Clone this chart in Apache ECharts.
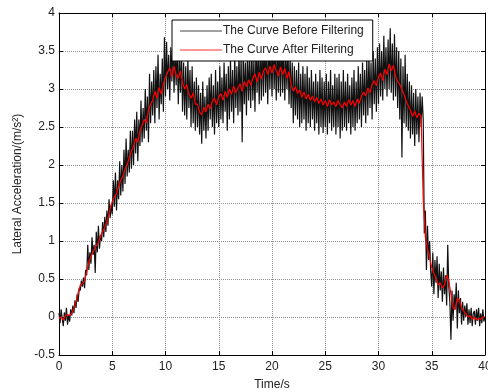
<!DOCTYPE html>
<html>
<head>
<meta charset="utf-8">
<script src="https://cdn.jsdelivr.net/npm/echarts@6/dist/echarts.min.js"></script>
<style>
  html, body { margin: 0; padding: 0; background: #fff; }
  #chart { width: 488px; height: 392px; }
</style>
</head>
<body>
<div id="chart"></div>
<script>
// sample steps (s)
const dtBefore = 0.1
const dtAfter = 0.2

// raw signal, 10 samples per second
const beforeFilter = [
  0.05, -0.08, 0.1, -0.02, -0.12, 0.06, -0.05, 0.12, -0.1, 0.03,
  -0.06, 0.1, 0.02, 0.15, 0.05, 0.22, 0.12, 0.3, 0.2, 0.38,
  0.35, 0.48, 0.4, 0.52, 0.38, 0.62, 0.55, 0.95, 0.62, 0.85,
  0.7, 1.05, 0.82, 0.95, 0.58, 1.12, 0.85, 1.2, 0.9, 1.08,
  1.0, 1.25, 1.05, 1.32, 1.12, 1.4, 1.2, 1.55, 1.3, 1.48,
  1.35, 1.8, 1.45, 1.9, 1.4, 1.8, 1.55, 2.05, 1.6, 2.0,
  1.65, 2.2, 1.75, 2.35, 1.85, 2.2, 1.9, 2.45, 1.95, 2.45,
  2.0, 2.6, 2.15, 2.7, 2.05, 2.6, 2.25, 2.85, 2.3, 2.75,
  2.35, 3.0, 2.45, 2.9, 2.3, 3.2, 2.55, 3.1, 2.65, 3.25,
  2.55, 3.3, 2.75, 3.45, 2.6, 3.2, 2.8, 3.4, 2.7, 3.68,
  2.9, 3.62, 3.0, 3.45, 2.85, 3.55, 3.1, 3.7, 2.95, 3.5,
  3.05, 3.6, 2.8, 3.45, 2.95, 3.5, 2.7, 3.35, 2.65, 3.3,
  2.6, 3.4, 2.75, 3.25, 2.5, 3.3, 2.55, 3.1, 2.45, 3.15,
  2.5, 3.05, 2.4, 2.95, 2.28, 3.1, 2.45, 2.9, 2.35, 3.05,
  2.45, 3.15, 2.6, 3.2, 2.5, 3.05, 2.4, 3.25, 2.55, 3.1,
  2.5, 3.3, 2.6, 3.15, 2.55, 3.35, 2.7, 3.2, 2.45, 3.3,
  2.6, 3.4, 2.7, 3.25, 2.55, 3.45, 2.75, 3.3, 2.65, 3.5,
  2.7, 3.45, 2.3, 3.5, 2.8, 3.35, 2.65, 3.55, 2.85, 3.4,
  2.75, 3.55, 2.85, 3.4, 2.7, 3.6, 2.95, 3.5, 2.8, 3.65,
  2.85, 3.6, 2.9, 3.7, 2.95, 3.55, 2.8, 3.65, 3.0, 3.6,
  2.9, 3.7, 3.0, 3.55, 2.85, 3.65, 2.95, 3.6, 2.9, 3.7,
  2.95, 3.6, 2.85, 3.5, 3.0, 3.55, 2.8, 3.45, 2.75, 3.35,
  2.55, 3.3, 2.65, 3.25, 2.6, 3.35, 2.5, 3.2, 2.55, 3.3,
  2.6, 3.2, 2.45, 3.3, 2.55, 3.15, 2.5, 3.25, 2.6, 3.1,
  2.45, 3.2, 2.55, 3.1, 2.4, 3.25, 2.5, 3.15, 2.42, 3.1,
  2.5, 3.2, 2.4, 3.1, 2.55, 3.25, 2.45, 3.05, 2.5, 3.2,
  2.4, 3.15, 2.5, 3.2, 2.35, 3.1, 2.45, 3.25, 2.5, 3.1,
  2.45, 3.2, 2.55, 3.05, 2.4, 3.15, 2.5, 3.25, 2.45, 3.1,
  2.55, 3.3, 2.6, 3.2, 2.5, 3.35, 2.65, 3.25, 2.55, 3.4,
  2.65, 3.45, 2.75, 3.35, 2.6, 3.5, 2.8, 3.4, 2.7, 3.55,
  2.8, 3.6, 2.9, 3.5, 2.85, 3.7, 3.0, 3.55, 2.9, 3.65,
  3.0, 3.8, 2.95, 3.6, 2.85, 3.72, 2.9, 3.55, 2.75, 3.5,
  2.6, 3.4, 2.1, 3.3, 2.55, 3.45, 2.5, 3.2, 2.45, 3.1,
  2.35, 3.05, 2.4, 2.95, 2.25, 3.0, 2.4, 2.9, 2.3, 2.95,
  2.5, 2.9, 2.6, 1.1, 1.4, 0.62, 1.2, 0.75, 1.0, 0.6,
  0.4, 0.85, 0.3, 0.75, 0.45, 0.8, 0.25, 0.7, 0.35, 0.6,
  0.2, 0.65, 0.3, 0.55, 0.15, 0.95, 0.4, 0.2, -0.3, 0.35,
  -0.05, 0.3, 0.1, 0.45, -0.15, 0.35, 0.05, 0.25, -0.1, 0.2,
  -0.05, 0.15, 0.0, 0.18, -0.1, 0.1, -0.08, 0.12, -0.12, 0.05,
  0.08, -0.1, 0.1, -0.05, 0.12, -0.12, 0.05, -0.08, 0.1, -0.06,
  0.0
]

// filtered signal, 5 samples per second
const afterFilter = [
  -0.02, 0.0, -0.04, 0.02, 0.03,
  0.02, 0.05, 0.12, 0.2, 0.32,
  0.42, 0.44, 0.47, 0.6, 0.72,
  0.8, 0.85, 0.92, 0.95, 1.02,
  1.1, 1.15, 1.22, 1.3, 1.42,
  1.52, 1.58, 1.62, 1.72, 1.8,
  1.85, 1.95, 2.0, 2.1, 2.18,
  2.25, 2.35, 2.3, 2.45, 2.52,
  2.6, 2.55, 2.72, 2.8, 2.85,
  2.97, 2.88, 3.02, 2.93, 3.07,
  3.15, 3.22, 3.28, 3.16, 3.3,
  3.18, 3.14, 3.24, 3.08, 3.0,
  3.06, 2.93, 2.88, 2.95, 2.8,
  2.8, 2.7, 2.66, 2.76, 2.7,
  2.8, 2.74, 2.84, 2.88, 2.79,
  2.9, 2.94, 2.85, 2.97, 2.89,
  3.0, 2.93, 3.04, 2.95, 3.01,
  3.07, 2.97, 3.1, 3.03, 3.12,
  3.05, 3.14, 3.2, 3.09, 3.22,
  3.13, 3.24, 3.28, 3.19, 3.3,
  3.21, 3.32, 3.24, 3.17, 3.29,
  3.19, 3.27, 3.14, 3.23, 3.05,
  2.97, 3.03, 2.94, 2.99, 2.89,
  2.96, 2.87, 2.93, 2.85, 2.91,
  2.83, 2.89, 2.81, 2.87, 2.79,
  2.85, 2.77, 2.86, 2.79, 2.83,
  2.77, 2.85, 2.79, 2.75, 2.83,
  2.77, 2.86, 2.79, 2.85, 2.77,
  2.87, 2.81, 2.91, 2.96, 2.91,
  3.01, 2.95, 3.06, 3.11, 3.04,
  3.16, 3.21, 3.11, 3.26, 3.19,
  3.33, 3.24, 3.31, 3.17, 3.1,
  3.06, 2.99, 2.93, 2.84, 2.78,
  2.72, 2.64, 2.71, 2.62, 2.68,
  2.64, 1.55, 1.05, 0.9, 0.78,
  0.65, 0.58, 0.5, 0.42, 0.45,
  0.38, 0.42, 0.55, 0.48, 0.3,
  0.12, 0.1, 0.25, 0.22, 0.12,
  0.08, 0.04, 0.0, 0.02, -0.03,
  0.0, -0.04, -0.02, -0.03, 0.0,
  0.0
]

const seriesNames = ['The Curve Before Filtering', 'The Curve After Filtering']

const toPairs = (arr, dt) => arr.map((v, i) => [+(i * dt).toFixed(1), v])

const font = 'Liberation Sans, Arial, sans-serif'
const gridLine = { show: true, lineStyle: { color: '#8c8c8c', type: [1, 1], width: 1 } }

const chart = echarts.init(document.getElementById('chart'))

const option = {
  animation: false,
  textStyle: { fontFamily: font },
  grid: { left: 59, right: 3, top: 13, bottom: 37, containLabel: false, outerBoundsMode: 'none' },
  legend: {
    data: [
      { name: seriesNames[0], itemStyle: { color: '#444' } },
      { name: seriesNames[1], itemStyle: { color: '#ff3030' } }
    ],
    orient: 'vertical',
    left: 172,
    top: 20,
    icon: 'rect',
    itemWidth: 42,
    itemHeight: 1,
    itemGap: 7,
    padding: [5, 9, 5, 8],
    backgroundColor: '#fff',
    borderColor: '#000',
    borderWidth: 1,
    borderRadius: 0,
    textStyle: { fontSize: 12, color: '#222', fontFamily: font, padding: [0, 0, 0, -4] }
  },
  xAxis: [
    {
      type: 'value',
      min: 0, max: 40, interval: 5,
      name: 'Time/s',
      nameLocation: 'middle',
      nameGap: 24,
      nameTextStyle: { fontSize: 12, color: '#222' },
      axisLine: { onZero: false, lineStyle: { color: '#000', width: 1 } },
      axisTick: { inside: true, length: 4, lineStyle: { color: '#000' } },
      axisLabel: { fontSize: 12, color: '#222', margin: 6 },
      splitLine: gridLine
    },
    {
      type: 'value',
      position: 'top',
      min: 0, max: 40, interval: 5,
      axisLine: { show: true, onZero: false, lineStyle: { color: '#000', width: 1 } },
      axisTick: { show: true, inside: true, length: 4, lineStyle: { color: '#000' } },
      axisLabel: { show: false },
      splitLine: { show: false }
    }
  ],
  yAxis: [
    {
      type: 'value',
      min: -0.5, max: 4, interval: 0.5,
      name: 'Lateral Acceleration/(m/s²)',
      nameLocation: 'middle',
      nameGap: 30,
      nameTextStyle: { fontSize: 12, color: '#222' },
      axisLine: { show: true, onZero: false, lineStyle: { color: '#000', width: 1 } },
      axisTick: { show: true, inside: true, length: 4, lineStyle: { color: '#000' } },
      axisLabel: { fontSize: 12, color: '#222', margin: 4 },
      splitLine: gridLine
    },
    {
      type: 'value',
      position: 'right',
      min: -0.5, max: 4, interval: 0.5,
      axisLine: { show: true, onZero: false, lineStyle: { color: '#000', width: 1 } },
      axisTick: { show: true, inside: true, length: 4, lineStyle: { color: '#000' } },
      axisLabel: { show: false },
      splitLine: { show: false }
    }
  ],
  series: [
    {
      name: seriesNames[0],
      type: 'line',
      symbol: 'none',
      data: toPairs(beforeFilter, dtBefore),
      lineStyle: { color: '#111', width: 1.2 },
      itemStyle: { color: '#111' }
    },
    {
      name: seriesNames[1],
      type: 'line',
      symbol: 'none',
      data: toPairs(afterFilter, dtAfter),
      lineStyle: { color: '#ff0000', width: 1.2 },
      itemStyle: { color: '#ff0000' }
    }
  ]
}

chart.setOption(option)
</script>
</body>
</html>
